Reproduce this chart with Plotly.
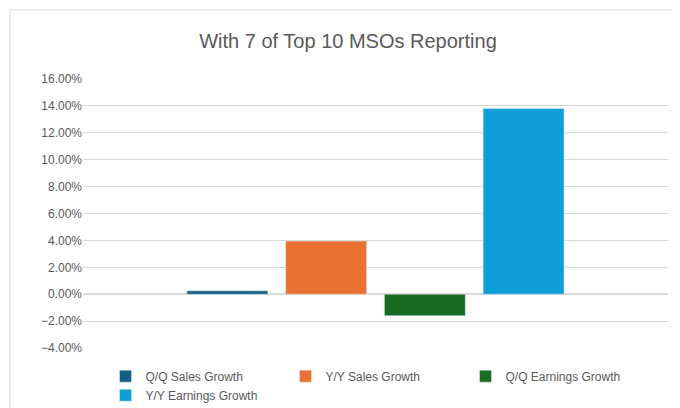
import plotly.graph_objects as go

category = ["1"]
series = ["Q/Q Sales Growth", "Y/Y Sales Growth", "Q/Q Earnings Growth", "Y/Y Earnings Growth"]
values = [0.0025, 0.0395, -0.016, 0.138]
colors = ["#156082", "#E97132", "#196B24", "#0F9ED5"]

fig = go.Figure()
for name, v, c in zip(series, values, colors):
    fig.add_trace(go.Bar(x=category, y=[v], name=name, marker_color=c))

L, R, T, B = 75, 20, 71, 68
pw, ph = 680 - L - R, 408 - T - B
fig.update_layout(
    width=680, height=408,
    margin=dict(l=L, r=R, t=T, b=B, autoexpand=False),
    paper_bgcolor="white", plot_bgcolor="white",
    font=dict(family="Liberation Sans, Arial", size=12, color="#595959"),
    title=dict(text="With 7 of Top 10 MSOs Reporting", x=0.5, xanchor="center",
               y=0.92, yanchor="middle", font=dict(size=20, color="#595959")),
    barmode="group", bargap=0.325, bargroupgap=0.18,
    yaxis=dict(range=[-0.04, 0.16], dtick=0.02, tickformat=".2%",
               gridcolor="#D9D9D9", zeroline=True, zerolinecolor="#D9D9D9",
               ticks="", showline=False),
    xaxis=dict(type="category", range=[-0.5, 0.5], showticklabels=False,
               showline=False, ticks=""),
    legend=dict(orientation="h", x=0.5, xanchor="center", y=-0.14, yanchor="middle",
                font=dict(size=12, color="#595959"), itemwidth=30,
                entrywidthmode="pixels", entrywidth=135),
    showlegend=True,
    shapes=[dict(type="rect", xref="paper", yref="paper",
                 x0=-(L - 2) / pw, x1=1 + (R - 2) / pw,
                 y0=-(B - 2) / ph, y1=1 + (T - 2) / ph,
                 line=dict(color="#D9D9D9", width=1))],
    annotations=[dict(x=category[0], y=0, text=category[0], showarrow=False,
                      yanchor="top", yshift=-14, font=dict(size=12, color="#595959"))],
)

fig.write_html("out.html")
